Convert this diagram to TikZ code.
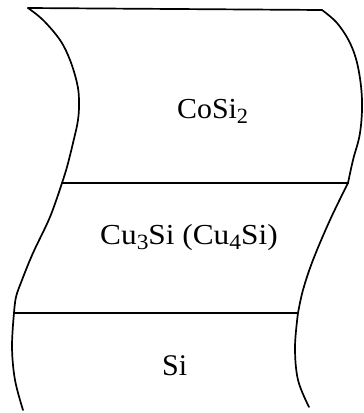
\documentclass[tikz,border=0pt]{standalone}
\usepackage{fontspec}
\usepackage{graphicx}
\setmainfont{Liberation Serif}
\newcommand{\sub}[1]{\raisebox{-0.2em}{\scalebox{0.75}{#1}}}
\tikzset{
  edge/.style={line width=1.7pt, line join=round, line cap=round},
  lbl/.style={inner sep=0pt, anchor=base west, font=\fontsize{29}{29}\selectfont}
}
\begin{document}
\begin{tikzpicture}[x=1pt,y=-1pt]
\useasboundingbox (0,0) rectangle (364,413);
% left boundary
\draw[edge] plot[smooth, tension=0.6] coordinates {(28,8) (43,20) (60,40) (70,60) (77,83) (79,100) (78,120) (73,143) (67,167) (62,183)};
\draw[edge] plot[smooth, tension=0.6] coordinates {(62,183) (50,217) (33,253) (22,280) (16,297) (14,313)};
\draw[edge] plot[smooth, tension=0.6] coordinates {(14,313) (12,347) (15,380) (23,410)};
% right boundary
\draw[edge] plot[smooth, tension=0.6] coordinates {(322,10) (337,23) (350,43) (358,67) (362,100) (360,133) (353,160) (348,183)};
\draw[edge] plot[smooth, tension=0.6] coordinates {(348,183) (330,220) (313,260) (303,290) (298,313)};
\draw[edge] plot[smooth, tension=0.6] coordinates {(298,313) (295,347) (298,380) (309,407)};
% horizontal lines
\draw[edge] (28,8) -- (322,10);
\draw[edge] (62,183) -- (348,183);
\draw[edge] (14,313) -- (298,313);
% labels
\node[lbl] (cosi) at (177,118) {\scalebox{1.03}[1]{CoSi\sub{2}}};
\node[lbl] (cusi) at (100,244) {\scalebox{1.08}[1]{Cu\sub{3}Si (Cu\sub{4}Si)}};
\node[lbl, font=\fontsize{30}{30}\selectfont] (si) at (162,375) {Si};
\end{tikzpicture}
\end{document}
